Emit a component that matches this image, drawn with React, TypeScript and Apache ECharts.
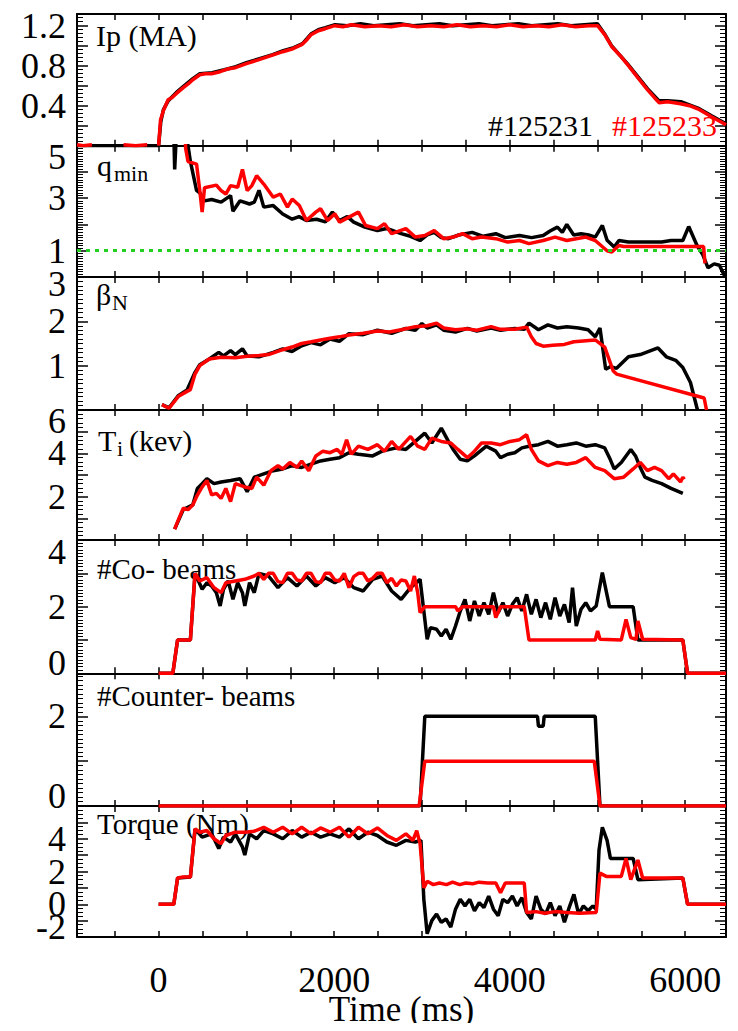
import React, { useEffect, useRef } from 'react';
import * as echarts from 'echarts';

// ---------- axis values ----------
const timeMin = -930;
const timeMax = 6465;
const timeTicks = [-500, 0, 500, 1000, 1500, 2000, 2500, 3000, 3500, 4000, 4500, 5000, 5500, 6000];
const timeLabels = [0, 2000, 4000, 6000];

const ipLabels = [0.4, 0.8, 1.2];
const qLabels = [1, 3, 5];
const betaLabels = [1, 2, 3];
const tiLabels = [2, 4, 6];
const coLabels = [0, 2, 4];
const ctrLabels = [0, 2];
const tqLabels = [-2, 0, 2, 4];

const shotBlack = '#125231';
const shotRed = '#125233';

// ---------- data: [time ms, value] ----------
const ipBlack = [
  [-930, 0], [0, 0], [25, 0.24], [55, 0.36], [110, 0.45], [200, 0.53], [280, 0.59], [390, 0.67], [470, 0.72],
  [610, 0.73], [750, 0.76], [880, 0.79], [1000, 0.83], [1150, 0.87], [1300, 0.91], [1420, 0.95], [1540, 0.98],
  [1640, 1.02], [1740, 1.12], [1820, 1.16], [1900, 1.18], [2010, 1.21], [2150, 1.2], [2300, 1.22], [2450, 1.2],
  [2600, 1.21], [2750, 1.22], [2900, 1.2], [3050, 1.21], [3200, 1.22], [3350, 1.2], [3500, 1.21], [3650, 1.22],
  [3800, 1.2], [3950, 1.21], [4100, 1.22], [4250, 1.2], [4400, 1.21], [4550, 1.22], [4700, 1.2], [4850, 1.21],
  [5000, 1.22], [5080, 1.12], [5160, 1.0], [5350, 0.81], [5570, 0.57], [5700, 0.45], [5800, 0.45], [5950, 0.44],
  [6160, 0.37], [6300, 0.3], [6465, 0.22],
];
const ipRed = [
  [-930, 0.01], [-860, 0.0], [-760, 0.01], [-700, null], [-400, 0.01], [-260, 0.0], [-130, 0.01], [-60, null],
  [0, 0.0], [22, 0.26], [54, 0.35], [108, 0.46], [150, 0.48], [200, 0.52], [281, 0.58], [340, 0.62], [389, 0.66],
  [469, 0.71], [530, 0.72], [604, 0.72], [700, 0.74], [800, 0.77], [874, 0.78], [1000, 0.82], [1144, 0.86],
  [1280, 0.9], [1414, 0.94], [1530, 0.97], [1630, 1.01], [1690, 1.06], [1737, 1.11], [1820, 1.15], [1899, 1.17],
  [2007, 1.2], [2100, 1.19], [2200, 1.21], [2350, 1.19], [2500, 1.2], [2650, 1.19], [2800, 1.21], [2950, 1.19],
  [3100, 1.2], [3250, 1.19], [3400, 1.21], [3550, 1.19], [3700, 1.2], [3850, 1.19], [4000, 1.21], [4150, 1.19],
  [4300, 1.2], [4450, 1.19], [4600, 1.21], [4750, 1.19], [4900, 1.2], [5002, 1.2], [5083, 1.11], [5164, 0.99],
  [5260, 0.9], [5353, 0.8], [5460, 0.68], [5569, 0.56], [5650, 0.48], [5704, 0.43], [5800, 0.44], [5947, 0.42],
  [6050, 0.4], [6163, 0.36], [6300, 0.29], [6465, 0.21],
];

const qBlack = [
  [160, 6.5], [175, 5.2], [183, 4.1], [200, 5.3], [216, 5.6], [308, 5.6], [362, 4.4], [432, 3.3], [469, 3.2],
  [523, 2.9], [604, 2.95], [712, 2.85], [820, 3.1], [847, 2.5], [928, 2.9], [1036, 2.78], [1090, 2.85],
  [1144, 3.3], [1198, 2.66], [1306, 2.72], [1414, 2.4], [1522, 2.2], [1600, 2.3], [1684, 2.15], [1800, 2.2],
  [1900, 2.1], [1980, 2.47], [2061, 2.15], [2150, 2.3], [2223, 2.09], [2350, 1.9], [2493, 1.77], [2600, 1.85],
  [2763, 1.65], [2870, 1.55], [2979, 1.39], [3060, 1.6], [3140, 1.7], [3220, 1.5], [3302, 1.46], [3420, 1.6],
  [3572, 1.7], [3700, 1.55], [3842, 1.65], [3950, 1.5], [4112, 1.58], [4250, 1.5], [4382, 1.58], [4460, 1.75],
  [4544, 1.9], [4600, 1.7], [4651, 2.0], [4730, 1.6], [4813, 1.65], [4900, 1.6], [4975, 1.52], [5056, 1.96],
  [5110, 1.4], [5191, 1.14], [5245, 1.39], [5353, 1.33], [5731, 1.33], [5839, 1.39], [5973, 1.39], [6040, 1.92],
  [6135, 1.2], [6200, 0.85], [6260, 0.35], [6330, 0.5], [6390, 0.45], [6440, 0.1], [6465, 0.05],
];
const qRed = [
  [290, 6.5], [308, 4.9], [335, 4.4], [432, 4.3], [469, 3.3], [496, 2.47], [523, 3.4], [658, 3.5], [712, 3.29],
  [766, 3.16], [820, 3.48], [901, 3.42], [955, 4.1], [1009, 3.29], [1063, 3.48], [1117, 3.86], [1198, 3.54],
  [1306, 3.04], [1387, 3.16], [1468, 2.66], [1522, 2.97], [1603, 2.72], [1684, 2.15], [1791, 2.47], [1845, 2.6],
  [1926, 2.15], [2007, 2.41], [2061, 2.09], [2169, 2.28], [2277, 2.47], [2358, 1.96], [2493, 1.84], [2574, 2.03],
  [2655, 1.65], [2817, 1.84], [2925, 1.52], [3033, 1.58], [3140, 1.77], [3248, 1.46], [3356, 1.52], [3464, 1.65],
  [3572, 1.46], [3680, 1.52], [3842, 1.46], [3977, 1.33], [4112, 1.39], [4220, 1.27], [4382, 1.39], [4517, 1.52],
  [4651, 1.39], [4867, 1.52], [4975, 1.39], [5110, 1.0], [5164, 0.95], [5245, 1.2], [5300, 1.16], [5600, 1.16],
  [5900, 1.16], [6210, 1.16], [6225, 0.52],
];

const betaBlack = [
  [38, 0.12], [119, 0.05], [227, 0.33], [324, 0.45], [415, 0.85], [469, 1.02], [577, 1.15], [685, 1.3],
  [739, 1.22], [820, 1.34], [874, 1.25], [955, 1.38], [1009, 1.22], [1144, 1.2], [1306, 1.3], [1414, 1.38],
  [1520, 1.32], [1630, 1.45], [1737, 1.52], [1845, 1.47], [1953, 1.6], [2060, 1.55], [2169, 1.72], [2331, 1.7],
  [2493, 1.8], [2655, 1.73], [2817, 1.84], [2925, 1.8], [3000, 1.95], [3060, 1.85], [3167, 1.92], [3248, 1.8],
  [3383, 1.76], [3518, 1.84], [3626, 1.78], [3788, 1.85], [3896, 1.8], [4058, 1.84], [4166, 1.82], [4220, 1.96],
  [4328, 1.81], [4436, 1.92], [4544, 1.85], [4651, 1.88], [4786, 1.85], [4894, 1.81], [4975, 1.65], [5029, 1.85],
  [5094, 0.92], [5150, 0.98], [5218, 0.94], [5353, 1.2], [5488, 1.25], [5690, 1.4], [5785, 1.2], [5892, 1.12],
  [5973, 0.96], [6060, 0.62], [6140, 0.0],
];
const betaRed = [
  [38, 0.12], [119, 0.04], [227, 0.31], [324, 0.42], [362, 0.46], [415, 0.81], [469, 1.0], [577, 1.15],
  [712, 1.19], [874, 1.18], [1010, 1.21], [1144, 1.23], [1252, 1.25], [1414, 1.36], [1520, 1.42], [1630, 1.5],
  [1740, 1.54], [1845, 1.58], [1953, 1.62], [2060, 1.65], [2169, 1.69], [2331, 1.73], [2493, 1.78], [2630, 1.76],
  [2763, 1.81], [2925, 1.88], [3060, 1.9], [3167, 1.96], [3248, 1.85], [3383, 1.81], [3518, 1.83], [3626, 1.8],
  [3788, 1.88], [3896, 1.82], [4058, 1.82], [4193, 1.87], [4247, 1.65], [4301, 1.5], [4382, 1.44], [4490, 1.46],
  [4624, 1.48], [4732, 1.54], [4975, 1.58], [5083, 1.42], [5180, 0.88], [5218, 0.81], [6216, 0.27], [6243, 0.0],
];

const tiBlack = [
  [183, 0.5], [281, 1.4], [389, 1.62], [442, 2.38], [496, 2.6], [550, 2.83], [631, 2.6], [712, 2.68], [820, 2.75],
  [928, 2.83], [1009, 2.23], [1090, 2.9], [1198, 3.05], [1306, 3.2], [1414, 3.28], [1522, 3.43], [1630, 3.35],
  [1737, 3.5], [1845, 3.65], [1953, 3.73], [2061, 3.8], [2169, 4.03], [2277, 3.96], [2439, 3.88], [2547, 4.1],
  [2709, 4.25], [2817, 4.18], [2925, 4.55], [3033, 4.93], [3113, 4.48], [3221, 5.16], [3302, 4.55], [3356, 4.18],
  [3437, 3.73], [3518, 3.65], [3599, 3.88], [3734, 4.33], [3842, 4.1], [3896, 3.8], [3977, 3.96], [4058, 4.03],
  [4139, 4.25], [4220, 4.33], [4328, 4.4], [4436, 4.55], [4544, 4.33], [4651, 4.4], [4759, 4.48], [4867, 4.33],
  [4975, 4.4], [5083, 4.25], [5137, 3.8], [5191, 3.28], [5272, 3.58], [5380, 4.18], [5434, 3.88], [5488, 3.35],
  [5542, 2.9], [5623, 2.75], [5731, 2.6], [5839, 2.38], [5973, 2.15],
];
const tiRed = [
  [183, 0.5], [227, 0.95], [281, 1.47], [335, 1.4], [389, 1.62], [432, 2.0], [496, 2.45], [550, 2.75], [604, 2.08],
  [658, 2.15], [712, 1.92], [766, 2.38], [820, 1.77], [874, 2.6], [982, 2.45], [1063, 2.38], [1117, 2.9],
  [1198, 2.53], [1279, 3.2], [1360, 3.43], [1414, 3.28], [1495, 3.58], [1576, 3.35], [1630, 3.65], [1711, 3.2],
  [1791, 3.88], [1872, 4.1], [1953, 4.03], [2034, 4.18], [2088, 3.96], [2142, 4.63], [2196, 3.96], [2277, 4.33],
  [2385, 4.18], [2493, 4.4], [2574, 4.1], [2655, 4.55], [2736, 4.18], [2871, 4.78], [2952, 4.33], [3033, 4.18],
  [3113, 4.7], [3221, 4.55], [3329, 4.48], [3410, 4.18], [3518, 3.8], [3599, 4.1], [3680, 4.48], [3788, 4.48],
  [3896, 4.4], [4004, 4.55], [4112, 4.63], [4193, 4.86], [4247, 4.18], [4328, 3.65], [4436, 3.43], [4544, 3.58],
  [4651, 3.5], [4759, 3.58], [4867, 3.8], [4975, 3.35], [5083, 3.2], [5191, 2.83], [5299, 2.9], [5407, 3.28],
  [5488, 3.58], [5569, 3.2], [5650, 3.35], [5731, 3.2], [5812, 2.83], [5865, 3.05], [5947, 2.68], [5973, 2.9],
  [5990, 2.8],
];

const coBlack = [
  [0, 0], [162, 0], [216, 1], [362, 1], [415, 3], [496, 2.52], [550, 2.72], [604, 2.62], [658, 2.42], [701, 2.02],
  [739, 2.52], [793, 2.77], [847, 2.22], [901, 2.72], [955, 2.42], [982, 2.02], [1036, 2.72], [1090, 2.42],
  [1144, 3.0], [1252, 2.92], [1360, 2.57], [1468, 2.87], [1576, 2.62], [1684, 2.92], [1791, 2.62], [1899, 2.87],
  [2007, 2.72], [2115, 2.87], [2223, 2.57], [2331, 2.47], [2439, 2.82], [2547, 2.92], [2655, 2.47], [2763, 2.22],
  [2871, 2.57], [2979, 2.82], [3033, 1.62], [3060, 1.02], [3097, 1.37], [3167, 1.32], [3221, 1.12], [3275, 1.32],
  [3329, 1.02], [3383, 1.42], [3437, 1.87], [3491, 2.22], [3545, 1.57], [3599, 2.17], [3653, 1.72], [3707, 2.12],
  [3761, 1.77], [3815, 2.42], [3869, 1.82], [3923, 2.12], [3977, 1.72], [4031, 2.07], [4085, 2.27], [4139, 1.87],
  [4193, 2.37], [4247, 1.77], [4301, 2.22], [4355, 1.67], [4409, 2.12], [4463, 1.62], [4517, 2.27], [4571, 1.72],
  [4624, 2.07], [4678, 1.52], [4716, 2.57], [4759, 1.42], [4813, 1.92], [4867, 2.12], [4921, 1.87], [4986, 2.02],
  [5056, 3.02], [5137, 2.0], [5407, 2.0], [5461, 1.0], [5973, 1.0], [6027, 0], [6465, 0],
];
const coRed = [
  [0, 0], [162, 0], [216, 1], [362, 1], [415, 3], [469, 2.77], [550, 2.87], [631, 2.57], [712, 2.42], [766, 2.72],
  [874, 2.77], [982, 2.82], [1090, 2.92], [1144, 3], [1198, 2.82], [1252, 3], [1306, 3], [1360, 2.75], [1414, 2.72],
  [1468, 3], [1522, 3], [1576, 2.8], [1630, 2.77], [1684, 3], [1737, 3], [1791, 2.75], [1845, 2.72], [1899, 3],
  [1953, 3], [2007, 2.8], [2061, 2.77], [2115, 3], [2169, 2.57], [2223, 2.9], [2277, 3], [2331, 3], [2385, 2.77],
  [2439, 2.85], [2493, 3], [2547, 3], [2601, 2.72], [2655, 2.85], [2709, 2.62], [2763, 2.8], [2817, 2.77],
  [2871, 2.47], [2914, 2.92], [2952, 2.42], [2979, 1.82], [3033, 2.0], [3383, 2.0], [3410, 1.87], [3464, 2.0],
  [3815, 2.0], [3842, 1.67], [3896, 2.0], [4166, 2.0], [4220, 1.0], [4975, 1.0], [5002, 1.27], [5029, 1.02],
  [5272, 1.0], [5326, 1.62], [5380, 1.07], [5440, 1.02], [5461, 1.57], [5515, 1.02], [5973, 1.0], [6027, 0],
  [6465, 0],
];

const ctrBlack = [[0, 0], [2979, 0], [3033, 2], [4317, 2], [4328, 1.78], [4382, 1.78], [4393, 2], [4975, 2], [5029, 0], [6465, 0]];
const ctrRed = [[0, 0], [2968, 0], [3033, 1], [4964, 1], [5029, 0], [6465, 0]];

const tqBlack = [
  [0, 0], [173, 0], [216, 1.6], [362, 1.66], [415, 4.6], [496, 4.1], [604, 4.3], [685, 3.4], [739, 4.1], [820, 3.8],
  [874, 4.3], [955, 3.5], [982, 3.0], [1036, 4.3], [1117, 4.0], [1198, 4.5], [1306, 4.3], [1414, 4.0], [1522, 4.5],
  [1630, 4.1], [1737, 4.4], [1845, 4.1], [1953, 4.3], [2061, 4.1], [2169, 4.6], [2277, 4.0], [2385, 4.4],
  [2493, 4.2], [2601, 3.8], [2709, 3.6], [2817, 3.9], [2925, 3.8], [2989, 3.9], [3022, 0.3], [3060, -1.8],
  [3113, -1.0], [3167, -0.6], [3221, -1.1], [3275, -0.9], [3329, -1.4], [3383, -0.3], [3437, 0.3], [3491, -0.1],
  [3545, 0.3], [3599, -0.4], [3653, 0.1], [3707, -0.2], [3761, 0.5], [3815, -0.3], [3869, -0.7], [3923, 0.3],
  [3977, 0.1], [4031, 0.5], [4085, -0.1], [4139, 0.4], [4193, -0.5], [4247, -0.9], [4301, 0.5], [4355, -0.3],
  [4409, -0.6], [4463, 0.1], [4517, -0.7], [4571, -0.1], [4624, -1.1], [4678, -0.2], [4732, 0.6], [4786, -0.6],
  [4840, -0.1], [4894, -0.4], [4948, -0.1], [4986, -0.3], [5018, 3.3], [5056, 4.7], [5110, 3.9], [5148, 2.8],
  [5407, 2.8], [5461, 1.5], [5973, 1.6], [6027, 0], [6465, 0],
];
const tqRed = [
  [0, 0], [173, 0], [216, 1.6], [281, 1.66], [362, 1.66], [415, 4.6], [469, 4.4], [550, 4.5], [631, 4.0],
  [712, 3.7], [766, 4.2], [874, 4.4], [982, 4.4], [1090, 4.46], [1198, 4.7], [1306, 4.4], [1414, 4.7], [1522, 4.3],
  [1630, 4.7], [1737, 4.3], [1845, 4.66], [1953, 4.4], [2061, 4.7], [2169, 4.1], [2277, 4.7], [2385, 4.3],
  [2493, 4.66], [2601, 4.2], [2709, 3.9], [2817, 4.3], [2898, 3.9], [2941, 4.5], [2979, 3.7], [3022, 1.0],
  [3060, 1.4], [3130, 1.2], [3200, 1.3], [3280, 1.2], [3350, 1.35], [3430, 1.2], [3500, 1.3], [3580, 1.25],
  [3650, 1.35], [3750, 1.3], [3842, 1.3], [3896, 0.7], [3950, 1.3], [4166, 1.3], [4193, -0.5], [4300, -0.45],
  [4400, -0.55], [4520, -0.45], [4650, -0.5], [4800, -0.55], [4986, -0.5], [5029, 1.9], [5100, 1.7], [5272, 1.7],
  [5326, 2.8], [5380, 1.5], [5461, 2.7], [5515, 1.6], [5973, 1.6], [6027, 0], [6465, 0],
];

const qReference = 1;

// ---------- layout ----------
const FONT = 'Liberation Serif';
const GRID_LEFT = 69;
const GRID_WIDTH = 649;
const PANEL_TOPS = [6, 137.7, 269, 402, 532, 665.3, 798, 929];
const LABEL_LH = 26;

type PanelAxis = {
  min: number; max: number; interval: number; split: number; labels: number[]; digits: number; topPad: number;
};
const panelAxes: PanelAxis[] = [
  { min: 0, max: 1.317, interval: 0.2, split: 5, labels: ipLabels, digits: 1, topPad: 18 },
  { min: 0, max: 5, interval: 1, split: 10, labels: qLabels, digits: 0, topPad: 22 },
  { min: 0, max: 3, interval: 1, split: 10, labels: betaLabels, digits: 0, topPad: 14 },
  { min: 0, max: 6, interval: 1, split: 5, labels: tiLabels, digits: 0, topPad: 22 },
  { min: 0, max: 4, interval: 1, split: 10, labels: coLabels, digits: 0, topPad: 24 },
  { min: 0, max: 2.96, interval: 1, split: 10, labels: ctrLabels, digits: 0, topPad: 18 },
  { min: -2, max: 6, interval: 1, split: 4, labels: tqLabels, digits: 0, topPad: 18 },
];
const panelSeries = [
  [ipBlack, ipRed],
  [qBlack, qRed],
  [betaBlack, betaRed],
  [tiBlack, tiRed],
  [coBlack, coRed],
  [ctrBlack, ctrRed],
  [tqBlack, tqRed],
];

function labelFormatter(ax: PanelAxis) {
  return (v: number) => {
    const hit = ax.labels.find((l) => Math.abs(l - v) < 1e-6);
    if (hit === undefined) return '';
    const s = ax.digits ? hit.toFixed(ax.digits) : String(hit);
    if (Math.abs(hit - ax.max) < 1e-6) return '{t|' + s + '}';
    if (Math.abs(hit - ax.min) < 1e-6) return '{b|' + s + '}';
    return s;
  };
}

function buildOption() {
  const grids: any[] = [];
  const xAxes: any[] = [];
  const yAxes: any[] = [];
  const series: any[] = [];
  const tickStyle = { color: '#000', width: 1.5 };
  const lineStyle = { color: '#000', width: 2 };
  for (let i = 0; i < 7; i++) {
    const top = PANEL_TOPS[i];
    const height = PANEL_TOPS[i + 1] - top;
    grids.push({ left: GRID_LEFT, width: GRID_WIDTH, top, height, show: false, outerBoundsMode: 'none', containLabel: false });
    const isLast = i === 6;
    xAxes.push({
      type: 'value', gridIndex: i, position: 'bottom', min: timeMin, max: timeMax,
      axisLine: { show: true, onZero: false, lineStyle },
      axisTick: { show: true, inside: true, length: 6, customValues: timeTicks, lineStyle: tickStyle },
      axisLabel: {
        show: isLast, customValues: timeLabels, fontSize: 36, fontFamily: FONT, color: '#000', margin: 25,
        formatter: (v: number) => String(v),
      },
      splitLine: { show: false },
      name: isLast ? 'Time (ms)' : '',
      nameLocation: 'middle', nameGap: 55, nameMoveOverlap: false,
      nameTextStyle: { fontSize: 35, fontFamily: FONT, color: '#000' },
    });
    xAxes.push({
      type: 'value', gridIndex: i, position: 'top', min: timeMin, max: timeMax,
      axisLine: { show: true, onZero: false, lineStyle },
      axisTick: { show: true, inside: true, length: 6, customValues: timeTicks, lineStyle: tickStyle },
      axisLabel: { show: false },
      splitLine: { show: false },
    });
    const ax = panelAxes[i];
    const common = {
      type: 'value', gridIndex: i, min: ax.min, max: ax.max, interval: ax.interval,
      axisLine: { show: true, onZero: false, lineStyle },
      axisTick: { show: true, inside: true, length: 11, lineStyle: tickStyle },
      minorTick: { show: true, splitNumber: ax.split, length: 6, lineStyle: { color: '#000', width: 1 } },
      splitLine: { show: false },
      minorSplitLine: { show: false },
    };
    yAxes.push({
      ...common, position: 'left',
      axisLabel: {
        show: true, fontSize: 36, lineHeight: LABEL_LH, fontFamily: FONT, color: '#000', margin: 11,
        showMinLabel: true, showMaxLabel: true, hideOverlap: false,
        formatter: labelFormatter(ax),
        rich: {
          t: { fontSize: 36, lineHeight: LABEL_LH, fontFamily: FONT, color: '#000', padding: [ax.topPad, 0, 0, 0] },
          b: { fontSize: 36, lineHeight: LABEL_LH, fontFamily: FONT, color: '#000', padding: [0, 0, 20, 0] },
        },
      },
    });
    yAxes.push({ ...common, position: 'right', axisLabel: { show: false } });

    const [blk, red] = panelSeries[i];
    const blackSeries: any = {
      type: 'line', name: shotBlack, xAxisIndex: 2 * i, yAxisIndex: 2 * i, data: blk,
      showSymbol: false, symbol: 'none', connectNulls: false,
      lineStyle: { color: '#000', width: 3.5 }, z: 3,
    };
    if (i === 1) {
      blackSeries.markLine = {
        silent: true, symbol: ['none', 'none'], label: { show: false },
        lineStyle: { color: '#22d022', width: 3, type: [4, 5] },
        data: [{ yAxis: qReference }],
      };
    }
    series.push(blackSeries);
    series.push({
      type: 'line', name: shotRed, xAxisIndex: 2 * i, yAxisIndex: 2 * i, data: red,
      showSymbol: false, symbol: 'none', connectNulls: false,
      lineStyle: { color: '#ff0000', width: 3.5 }, z: 4,
    });
  }

  const txt = (x: number, y: number, text: string, size: number, color = '#000') => ({
    type: 'text', x, y, z: 1,
    style: { text, fontSize: size, fontFamily: FONT, fill: color, verticalAlign: 'middle', align: 'left' },
  });
  const graphic = [
    txt(88, 27, 'Ip (MA)', 30),
    txt(480, 117, shotBlack, 30),
    txt(604, 117, shotRed, 30, '#ff0000'),
    txt(89, 157, 'q', 30),
    txt(106, 165, 'min', 22),
    txt(88, 286, 'β', 30),
    txt(104, 294, 'N', 22),
    txt(90, 432, 'T', 30),
    txt(109, 440, 'i', 22),
    txt(121, 432, '(kev)', 30),
    txt(89, 561, '#Co- beams', 29),
    txt(89, 688, '#Counter- beams', 29),
    txt(89, 816, 'Torque (Nm)', 29),
  ];

  return {
    animation: false,
    backgroundColor: '#fff',
    grid: grids,
    xAxis: xAxes,
    yAxis: yAxes,
    series,
    graphic,
  };
}

export default function App() {
  const ref = useRef<HTMLDivElement>(null);
  useEffect(() => {
    if (!ref.current) return;
    const chart = echarts.init(ref.current, undefined, { renderer: 'svg' });
    chart.setOption(buildOption() as any);
    return () => chart.dispose();
  }, []);
  return <div ref={ref} style={{ width: 722, height: 1023, marginBottom: -8 }} />;
}
